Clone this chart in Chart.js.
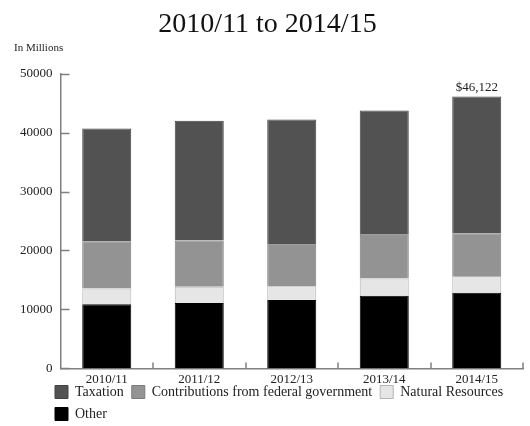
<!DOCTYPE html>
<html>
<head>
<meta charset="utf-8">
<script src="https://cdn.jsdelivr.net/npm/chart.js@4/dist/chart.umd.min.js"></script>
<style>
    body { margin: 0; background: #fff; }
    #wrap { width: 530px; height: 426px; }
</style>
</head>
<body>
<div id="wrap"><canvas id="canvas"></canvas></div>
<script>
var years = ['2010/11', '2011/12', '2012/13', '2013/14', '2014/15'];
var other = [10900, 11080, 11580, 12310, 12820];
var naturalResources = [2650, 2750, 2360, 2920, 2860];
var contributions = [8000, 7870, 7020, 7420, 7250];
var taxation = [19150, 20290, 21250, 21080, 23192];
var yTicks = [0, 10000, 20000, 30000, 40000, 50000];
var topLabel = '$46,122';

var serif = '"Liberation Serif", "DejaVu Serif", serif';
var axisGray = '#808080';

// inward tick marks, unit label, total over last bar
var notes = {
    id: 'notes',
    beforeLayout: function (chart) {
        // legend reserves less room so the plot gets taller
        var lg = chart.legend;
        if (lg && !lg._trimmed) {
            var fit = lg.fit;
            lg.fit = function () {
                fit.call(this);
                this.height -= 18;
            };
            lg._trimmed = true;
        }
    },
    afterLayout: function (chart) {
        // move legend so it starts under the y axis like the original
        var lg = chart.legend;
        lg.left += 35;
        lg.right += 35;
        lg.top -= 13;
        lg.bottom = chart.height;
        lg.height = lg.bottom - lg.top;
    },
    afterDraw: function (chart) {
        var c = chart.ctx;
        var xs = chart.scales.x;
        var ys = chart.scales.y;
        var area = chart.chartArea;
        c.save();
        c.strokeStyle = axisGray;
        c.lineWidth = 1.5;
        c.beginPath();
        yTicks.forEach(function (v) {
            var py = Math.round(ys.getPixelForValue(v)) + 0.5;
            c.moveTo(area.left, py);
            c.lineTo(area.left + 9, py);
        });
        var half = (xs.getPixelForValue(1) - xs.getPixelForValue(0)) / 2;
        for (var i = 0; i < years.length; i++) {
            var px = Math.round(xs.getPixelForValue(i) + half);
            c.moveTo(px, area.bottom);
            c.lineTo(px, area.bottom - 6);
        }
        c.stroke();

        c.fillStyle = '#222';
        c.font = '11px ' + serif;
        c.textAlign = 'left';
        c.textBaseline = 'bottom';
        c.fillText('In Millions', 14, 54);

        var last = years.length - 1;
        var total = other[last] + naturalResources[last] + contributions[last] + taxation[last];
        c.font = '13px ' + serif;
        c.textAlign = 'center';
        c.fillText(topLabel, xs.getPixelForValue(last), ys.getPixelForValue(total) - 2);
        c.restore();
    }
};

var ctx = document.getElementById('canvas').getContext('2d');
window.myBar = new Chart(ctx, {
    type: 'bar',
    data: {
        labels: years,
        datasets: [{
            label: 'Other',
            data: other,
            backgroundColor: '#000000',
            borderColor: '#000000',
            borderWidth: 1
        }, {
            label: 'Natural Resources',
            data: naturalResources,
            backgroundColor: '#e6e6e6',
            borderColor: '#b5b5b5',
            borderWidth: 1
        }, {
            label: 'Contributions from federal government',
            data: contributions,
            backgroundColor: '#939393',
            borderColor: '#7a7a7a',
            borderWidth: 1
        }, {
            label: 'Taxation',
            data: taxation,
            backgroundColor: '#525252',
            borderColor: '#444',
            borderWidth: 1
        }]
    },
    options: {
        responsive: true,
        maintainAspectRatio: false,
        animation: false,
        layout: { padding: { left: 12, right: 7, top: 0, bottom: 0 } },
        datasets: {
            bar: { categoryPercentage: 1, barPercentage: 0.53 }
        },
        scales: {
            x: {
                stacked: true,
                border: { color: axisGray, width: 1.5 },
                grid: { display: false, drawTicks: false },
                ticks: { color: '#222', font: { family: serif, size: 13 }, padding: 3, maxRotation: 0 }
            },
            y: {
                stacked: true,
                min: 0,
                max: 50000,
                afterBuildTicks: function (axis) {
                    axis.ticks = yTicks.map(function (v) { return { value: v }; });
                },
                border: { color: axisGray, width: 1.5 },
                grid: { display: false, drawTicks: false },
                ticks: {
                    color: '#222',
                    font: { family: serif, size: 13 },
                    padding: 8,
                    callback: function (v) { return String(v); }
                }
            }
        },
        plugins: {
            title: {
                display: true,
                text: '2010/11 to 2014/15',
                color: '#111',
                font: { family: serif, size: 28, weight: 'normal' },
                padding: { top: 8, bottom: 32 }
            },
            legend: {
                position: 'bottom',
                align: 'start',
                reverse: true,
                labels: {
                    color: '#222',
                    font: { family: serif, size: 14 },
                    boxWidth: 13,
                    boxHeight: 13,
                    padding: 8
                }
            },
            tooltip: { enabled: false }
        }
    },
    plugins: [notes]
});
</script>
</body>
</html>
